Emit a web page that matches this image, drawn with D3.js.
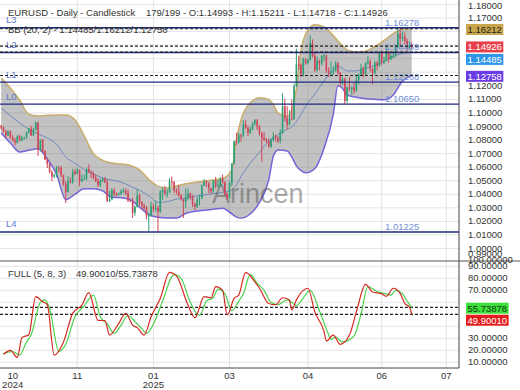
<!DOCTYPE html>
<html><head><meta charset="utf-8">
<script src="https://cdn.jsdelivr.net/npm/d3@7"></script>
<style>html,body{margin:0;padding:0;background:#fff;}svg{display:block;font-family:"Liberation Sans",Arial,sans-serif;}</style>
</head><body><svg id="c" width="520" height="390"></svg>
<script>
// ---------- DATA ----------
const opens=[1.0905,1.0892,1.0862,1.0833,1.0866,1.0817,1.0797,1.0781,1.0828,1.0797,
1.0815,1.0817,1.0856,1.0884,1.0834,1.0878,1.0928,1.0730,1.0801,1.0720,
1.0656,1.0625,1.0565,1.0530,1.0541,1.0597,1.0595,1.0543,1.0474,1.0418,
1.0496,1.0488,1.0567,1.0552,1.0577,1.0497,1.0509,1.0513,1.0587,1.0567,
1.0554,1.0525,1.0497,1.0468,1.0500,1.0513,1.0490,1.0350,1.0362,1.0430,
1.0405,1.0398,1.0405,1.0422,1.0427,1.0408,1.0354,1.0352,1.0264,1.0307,
1.0390,1.0342,1.0317,1.0300,1.0244,1.0244,1.0308,1.0290,1.0300,1.0272,
1.0418,1.0430,1.0407,1.0414,1.0495,1.0493,1.0431,1.0420,1.0392,1.0362,
1.0345,1.0380,1.0404,1.0380,1.0330,1.0308,1.0363,1.0370,1.0464,1.0492,
1.0483,1.0444,1.0423,1.0500,1.0459,1.0466,1.0512,1.0486,1.0400,1.0375,
1.0482,1.0626,1.0790,1.0783,1.0834,1.0833,1.0918,1.0889,1.0852,1.0880,
1.0921,1.0945,1.0900,1.0852,1.0817,1.0801,1.0790,1.0753,1.0800,1.0826,
1.0815,1.0792,1.0851,1.1048,1.0960,1.0912,1.0958,1.0953,1.1197,1.1357,
1.1356,1.1286,1.1396,1.1367,1.1390,1.1517,1.1420,1.1316,1.1386,1.1365,
1.1421,1.1425,1.1312,1.1295,1.1297,1.1313,1.1367,1.1299,1.1224,1.1250,
1.1089,1.1188,1.1176,1.1187,1.1165,1.1243,1.1285,1.1328,1.1283,1.1365,
1.1380,1.1325,1.1293,1.1368,1.1347,1.1442,1.1372,1.1384,1.1444,1.1397,
1.1420,1.1422,1.1488,1.1585,1.1548,1.1563,1.1530,1.1479,1.14993];
const highs=[1.0912,1.0900,1.0875,1.0872,1.0870,1.0836,1.0815,1.0836,1.0840,1.0830,
1.0823,1.0862,1.0888,1.0905,1.0890,1.0937,1.0935,1.0806,1.0810,1.0725,
1.0664,1.0632,1.0580,1.0554,1.0610,1.0608,1.0608,1.0545,1.0496,1.0536,
1.0526,1.0588,1.0585,1.0597,1.0583,1.0545,1.0545,1.0597,1.0620,1.0575,
1.0566,1.0545,1.0520,1.0513,1.0524,1.0528,1.0508,1.0426,1.0446,1.0447,
1.0415,1.0412,1.0437,1.0446,1.0444,1.0435,1.0360,1.0375,1.0318,1.0437,
1.0404,1.0348,1.0329,1.0315,1.0266,1.0345,1.0332,1.0354,1.0317,1.0433,
1.0455,1.0462,1.0438,1.0520,1.0532,1.0496,1.0445,1.0468,1.0403,1.0365,
1.0442,1.0442,1.0412,1.0395,1.0337,1.0378,1.0398,1.0472,1.0513,1.0505,
1.0488,1.0447,1.0505,1.0528,1.0505,1.0528,1.0545,1.0497,1.0413,1.0495,
1.0630,1.0797,1.0854,1.0853,1.0847,1.0947,1.0947,1.0906,1.0896,1.0931,
1.0955,1.0955,1.0910,1.0860,1.0858,1.0815,1.0812,1.0812,1.0858,1.0840,
1.0830,1.0880,1.1144,1.1107,1.1050,1.1020,1.1100,1.1215,1.1473,1.1422,
1.1365,1.1407,1.1404,1.1398,1.1573,1.1543,1.1446,1.1417,1.1392,1.1425,
1.1435,1.1425,1.1337,1.1380,1.1344,1.1381,1.1379,1.1299,1.1266,1.1261,
1.1196,1.1265,1.1195,1.1225,1.1286,1.1290,1.1363,1.1345,1.1375,1.1419,
1.1395,1.1335,1.1387,1.1383,1.1452,1.1455,1.1414,1.1495,1.1455,1.1436,
1.1452,1.1496,1.16278,1.1614,1.1601,1.1595,1.1548,1.1528,1.15211];
const lows=[1.0875,1.0855,1.0815,1.0830,1.0810,1.0790,1.0761,1.0775,1.0790,1.0792,
1.0804,1.0810,1.0848,1.0830,1.0830,1.0870,1.0682,1.0715,1.0710,1.0652,
1.0594,1.0555,1.0496,1.0520,1.0526,1.0560,1.0525,1.0462,1.0335,1.0412,
1.0480,1.0478,1.0540,1.0548,1.0460,1.0490,1.0504,1.0502,1.0556,1.0520,
1.0512,1.0490,1.0455,1.0455,1.0490,1.0482,1.0344,1.0343,1.0355,1.0387,
1.0385,1.0392,1.0395,1.0408,1.0395,1.0343,1.0345,1.0226,1.0242,1.0302,
1.0322,1.0291,1.0287,1.0215,1.0123,1.0235,1.0271,1.0275,1.0125,1.0264,
1.0358,1.0390,1.0375,1.0410,1.0460,1.0411,1.0397,1.0380,1.0355,1.0225,
1.0300,1.0356,1.0360,1.0306,1.0285,1.0299,1.0318,1.0365,1.0460,1.0455,
1.0410,1.0400,1.0411,1.0445,1.0449,1.0455,1.0478,1.0390,1.0360,1.0368,
1.0460,1.0620,1.0763,1.0773,1.0789,1.0820,1.0880,1.0830,1.0846,1.0870,
1.0910,1.0875,1.0833,1.0640,1.0795,1.0777,1.0745,1.0740,1.0788,1.0790,
1.0778,1.0775,1.0845,1.0935,1.0880,1.0910,1.0945,1.0950,1.1190,1.1318,
1.1265,1.1270,1.1355,1.1360,1.1385,1.1410,1.1300,1.1306,1.1315,1.1350,
1.1380,1.1295,1.1265,1.1270,1.1280,1.1305,1.1284,1.1201,1.1208,1.1065,
1.1075,1.1162,1.1135,1.1140,1.1155,1.1210,1.1270,1.1260,1.1275,1.1355,
1.1305,1.1210,1.1285,1.1315,1.1340,1.1355,1.1360,1.1380,1.1372,1.1390,
1.1405,1.1412,1.1480,1.1490,1.1530,1.1505,1.1460,1.1470,1.14718];
const closes=[1.0892,1.0862,1.0833,1.0866,1.0817,1.0797,1.0781,1.0828,1.0797,1.0815,
1.0817,1.0856,1.0884,1.0834,1.0878,1.0928,1.0730,1.0801,1.0720,1.0656,
1.0625,1.0565,1.0530,1.0541,1.0597,1.0595,1.0543,1.0474,1.0418,1.0496,
1.0488,1.0567,1.0552,1.0577,1.0497,1.0509,1.0513,1.0587,1.0567,1.0554,
1.0525,1.0497,1.0468,1.0500,1.0513,1.0490,1.0350,1.0362,1.0430,1.0405,
1.0398,1.0405,1.0422,1.0427,1.0408,1.0354,1.0352,1.0264,1.0307,1.0390,
1.0342,1.0317,1.0300,1.0244,1.0244,1.0308,1.0290,1.0300,1.0272,1.0418,
1.0430,1.0407,1.0414,1.0495,1.0493,1.0431,1.0420,1.0392,1.0362,1.0345,
1.0380,1.0404,1.0380,1.0330,1.0308,1.0363,1.0370,1.0464,1.0492,1.0483,
1.0444,1.0423,1.0500,1.0459,1.0466,1.0512,1.0486,1.0400,1.0375,1.0482,
1.0626,1.0790,1.0783,1.0834,1.0833,1.0918,1.0889,1.0852,1.0880,1.0921,
1.0945,1.0900,1.0852,1.0817,1.0801,1.0790,1.0753,1.0800,1.0826,1.0815,
1.0792,1.0851,1.1048,1.0960,1.0912,1.0958,1.0953,1.1197,1.1357,1.1356,
1.1286,1.1396,1.1367,1.1390,1.1517,1.1420,1.1316,1.1386,1.1365,1.1421,
1.1425,1.1312,1.1295,1.1297,1.1313,1.1367,1.1299,1.1224,1.1250,1.1089,
1.1188,1.1176,1.1187,1.1165,1.1243,1.1285,1.1328,1.1283,1.1365,1.1380,
1.1325,1.1293,1.1368,1.1347,1.1442,1.1372,1.1384,1.1444,1.1397,1.1420,
1.1422,1.1488,1.1585,1.1548,1.1563,1.1530,1.1479,1.1499,1.14926];

// Bollinger band (20,2) at these bar indices
const bbIdx=[0,4,8,12,16,20,24,28,32,36,40,44,48,52,56,60,64,68,72,76,80,84,88,92,96,100,102,104,108,112,116,118,120,124,126,128,130,132,136,140,144,146,148,150,154,158,162,166,170,174,178];
const bbUpper=[1.1258,1.1184,1.1095,1.0990,1.0977,1.0982,1.0985,1.0985,1.0950,1.0830,1.0700,1.0650,1.0630,1.0623,1.0612,1.0580,1.0510,1.0460,1.0446,1.0461,1.0478,1.0488,1.0497,1.0506,1.0516,1.0580,1.0800,1.0950,1.1075,1.1112,1.1100,1.1060,1.1000,1.0975,1.1020,1.1180,1.1460,1.1580,1.1650,1.1635,1.1570,1.1530,1.1495,1.1465,1.1450,1.1455,1.1490,1.1535,1.1585,1.1619,1.16212];
const bbMid=[1.1036,1.0980,1.0926,1.0880,1.0845,1.0815,1.0770,1.0675,1.0630,1.0580,1.0550,1.0520,1.0505,1.0490,1.0460,1.0430,1.0390,1.0340,1.0345,1.0365,1.0373,1.0385,1.0395,1.0405,1.0415,1.0432,1.0470,1.0530,1.0630,1.0710,1.0790,1.0815,1.0840,1.0880,1.0896,1.0935,1.0990,1.1050,1.1140,1.1235,1.1320,1.1345,1.1330,1.1310,1.1310,1.1330,1.1350,1.1380,1.1415,1.1440,1.14485];
const bbLower=[1.0852,1.0778,1.0712,1.0725,1.0735,1.0660,1.0550,1.0360,1.0400,1.0440,1.0440,1.0425,1.0378,1.0375,1.0360,1.0306,1.0250,1.0230,1.0225,1.0225,1.0258,1.0275,1.0283,1.0290,1.0298,1.0255,1.0232,1.0225,1.0255,1.0340,1.0505,1.0680,1.0727,1.0720,1.0675,1.0610,1.0575,1.0558,1.0590,1.0740,1.0990,1.1200,1.1180,1.1132,1.1115,1.1105,1.1100,1.1097,1.1132,1.1235,1.12758];

// Full stochastic (5,8,3)
const kIdx=[1,4,7,9,12,15,18,20,23,27,31,35,38,42,45,47,51,54,57,59,62,65,69,73,76,81,84,88,91,93,96,98,101,103,106,110,112,116,119,122,125,126,128,133,136,140,141,144,147,151,154,158,161,165,167,170,173,175,177,178];
const kVals=[16.7,20,14,30.5,33,64.7,60.5,58,16,26.7,50.8,57.7,68,45,44.7,32.7,42.5,50.8,41,38.9,32.7,48,63.3,85,82,57.7,47,64.7,63.8,73,70,49.4,63.3,66,85,77,71.7,59,58,63.8,62,53.6,62,71.7,52,35.5,27.7,32.7,25,32.7,52,75,68.6,67,65,71.7,67.5,59,56,49.9001];
const dIdx=[1,5,8,11,13,17,19,21,25,28,32,36,40,43,46,49,52,55,58,61,63,67,70,75,78,82,86,89,92,94,97,100,103,105,108,111,114,117,120,124,126,128,130,134,138,142,143,145,148,153,156,159,163,167,169,171,174,176,178];
const dVals=[17,19,16,27,33,60,62,55,19,25,48,57,66,48,42,34,41,49,44,38,34,46,61,83,80,60,49,61,64,71,67,53,61,67,83,76,70,60,58,62,60,57,61,70,53,33,29,31,27,32,50,73,69,67,66,70,67,61,55.73878];

const levelNames=["L3","L2","L1","L0","L4"];
const levelValues=[1.16278,1.14459,1.12268,1.10650,1.01225];
const bbLast=[1.14485,1.16212,1.12758]; // mid/upper/lower
const priceTagValues=[1.16212,1.14926,1.14485,1.12758];
const priceTagFills=["#c9a64b","#e8414b","#2f95e6","#6a3ce6"];
const priceTagText=["#222","#fff","#fff","#fff"];
const stochTagValues=[55.73878,49.90010];
const stochTagFills=["#3de03d","#e51d1d"];
const stochTagText=["#103a10","#fff"];
const monthTickIdx=[5,33,66,99,133,165,193];
const monthLabels=["10","11","01","03","04","06","07"];
const yearLabels=["2024","","2025","","","",""];
const priceTicks=d3.range(0,20).map(i=>+(0.99+i*0.01).toFixed(2));
const stochTicks=[10,20,30,40,50,60,70,80,90,100];

// ---------- CHART ----------
const W=459, mainTop=0, mainBot=261, stTop=261, stBot=368;
const svg=d3.select("#c");
const x=d3.scaleLinear().domain([-0.5,198.5]).range([0,W]);
const yP=d3.scaleLinear().domain([0.99,1.18]).range([262.1,4.44]);
const yS=d3.scaleLinear().domain([0,100]).range([374.3,254.3]);
const f5=d3.format(".5f");
const step=x(1)-x(0);

const defs=svg.append("defs");
defs.append("clipPath").attr("id","cm").append("rect").attr("x",0).attr("y",mainTop).attr("width",W).attr("height",mainBot-mainTop);
defs.append("clipPath").attr("id","cs").append("rect").attr("x",0).attr("y",stTop).attr("width",W).attr("height",stBot-stTop);

const gm=svg.append("g").attr("clip-path","url(#cm)");
const gs=svg.append("g").attr("clip-path","url(#cs)");

// grids
gm.selectAll("line.hg").data(priceTicks).join("line").attr("x1",0).attr("x2",W)
  .attr("y1",d=>yP(d)).attr("y2",d=>yP(d)).attr("stroke","#e4e4e4").attr("stroke-width",1);
gs.selectAll("line.hg").data(stochTicks).join("line").attr("x1",0).attr("x2",W)
  .attr("y1",d=>yS(d)).attr("y2",d=>yS(d)).attr("stroke","#e4e4e4").attr("stroke-width",1);
const vt=monthTickIdx.slice(1);
gm.selectAll("line.vg").data(vt).join("line").attr("x1",d=>x(d)).attr("x2",d=>x(d))
  .attr("y1",mainTop).attr("y2",mainBot).attr("stroke","#e4e4e4");
gs.selectAll("line.vg").data(vt).join("line").attr("x1",d=>x(d)).attr("x2",d=>x(d))
  .attr("y1",stTop).attr("y2",stBot).attr("stroke","#e4e4e4");

// Bollinger band
const bbI=d3.range(bbIdx.length);
gm.append("path").datum(bbI).attr("fill","rgba(120,120,120,0.45)")
  .attr("d",d3.area().x(i=>x(bbIdx[i])).y0(i=>yP(bbLower[i])).y1(i=>yP(bbUpper[i])).curve(d3.curveMonotoneX));
const bbLine=arr=>d3.line().x(i=>x(bbIdx[i])).y(i=>yP(arr[i])).curve(d3.curveMonotoneX);
gm.append("path").datum(bbI).attr("fill","none").attr("stroke","#6f8bbd").attr("stroke-width",1).attr("d",bbLine(bbMid));
gm.append("path").datum(bbI).attr("fill","none").attr("stroke","#c9ad6a").attr("stroke-width",1.5).attr("d",bbLine(bbUpper));
gm.append("path").datum(bbI).attr("fill","none").attr("stroke","#7563d8").attr("stroke-width",1.5).attr("d",bbLine(bbLower));

// watermark
gm.append("text").attr("x",212).attr("y",203).attr("font-size",27).attr("fill","#555").attr("opacity",0.5).text("Arincen");

// candles
const ci=d3.range(closes.length);
const col=i=>closes[i]>=opens[i]?"#2e9e75":"#d0465a";
gm.selectAll("line.wick").data(ci).join("line").attr("x1",i=>x(i)).attr("x2",i=>x(i))
  .attr("y1",i=>yP(highs[i])).attr("y2",i=>yP(lows[i])).attr("stroke",col).attr("stroke-width",1);
gm.selectAll("rect.body").data(ci).join("rect").attr("x",i=>x(i)-step*0.35).attr("width",step*0.7)
  .attr("y",i=>yP(Math.max(opens[i],closes[i])))
  .attr("height",i=>Math.max(1,Math.abs(yP(opens[i])-yP(closes[i])))).attr("fill",col);

// level lines
const li=d3.range(levelValues.length);
gm.selectAll("line.lvl").data(li).join("line").attr("x1",0).attr("x2",W)
  .attr("y1",i=>yP(levelValues[i])).attr("y2",i=>yP(levelValues[i])).attr("stroke","#1f2a80").attr("stroke-width",1.4);
gm.selectAll("text.ln").data(li).join("text").attr("x",6).attr("y",i=>yP(levelValues[i])-4.5)
  .attr("font-size",9.5).attr("fill","#5d7bd0").text(i=>levelNames[i]);
gm.selectAll("text.lv").data(li).join("text").attr("x",385).attr("y",i=>yP(levelValues[i])-2)
  .attr("font-size",9.5).attr("fill","#6f8fd8").text(i=>f5(levelValues[i]));

// dashed value lines
gm.selectAll("line.dv").data(priceTagValues).join("line").attr("x1",0).attr("x2",W)
  .attr("y1",d=>yP(d)).attr("y2",d=>yP(d)).attr("stroke","#222").attr("stroke-width",1.1).attr("stroke-dasharray","3,2");

// stochastic
const kI=d3.range(kIdx.length), dI=d3.range(dIdx.length);
gs.selectAll("line.dv").data(stochTagValues).join("line").attr("x1",0).attr("x2",W)
  .attr("y1",d=>yS(d)).attr("y2",d=>yS(d)).attr("stroke","#222").attr("stroke-width",1.1).attr("stroke-dasharray","3,2");
gs.append("path").datum(dI).attr("fill","none").attr("stroke","#4ccf4c").attr("stroke-width",1.2)
  .attr("d",d3.line().x(i=>x(dIdx[i])).y(i=>yS(dVals[i])).curve(d3.curveMonotoneX));
gs.append("path").datum(kI).attr("fill","none").attr("stroke","#d42a22").attr("stroke-width",1.2)
  .attr("d",d3.line().x(i=>x(kIdx[i])).y(i=>yS(kVals[i])).curve(d3.curveMonotoneX));

// frames
svg.append("line").attr("x1",0).attr("x2",520).attr("y1",261).attr("y2",261).attr("stroke","#555");
svg.append("line").attr("x1",0).attr("x2",W).attr("y1",368).attr("y2",368).attr("stroke","#444");
svg.append("line").attr("x1",W).attr("x2",W).attr("y1",0).attr("y2",368).attr("stroke","#444");

// tag placement (push apart)
function place(vals,scale,gap){
  const items=vals.map((v,i)=>({v,i,y:scale(v)+0.8})).sort((a,b)=>a.y-b.y);
  for(let k=1;k<items.length;k++){ if(items[k].y<items[k-1].y+gap) items[k].y=items[k-1].y+gap; }
  return items;
}
const pTags=place(priceTagValues,yP,12.5);
const sTags=place(stochTagValues,yS,12);
const covered=(y,tg)=>tg.some(t=>Math.abs(t.y-y)<8);

// axes
const ap=svg.append("g").attr("transform",`translate(${W},0)`)
  .call(d3.axisRight(yP).tickValues(priceTicks).tickFormat(f5).tickSize(0).tickPadding(9));
ap.select(".domain").remove();
ap.selectAll(".tick").attr("transform",d=>`translate(0,${Math.max(6,Math.min(yP(d),254))})`);
ap.selectAll(".tick").filter(d=>covered(yP(d),pTags)).remove();
ap.selectAll("text").attr("font-size",9.5).attr("font-family","Liberation Sans, Arial, sans-serif").attr("fill","#333");
const as=svg.append("g").attr("transform",`translate(${W},0)`)
  .call(d3.axisRight(yS).tickValues(stochTicks).tickFormat(f5).tickSize(0).tickPadding(9));
as.select(".domain").remove();
as.selectAll(".tick").attr("transform",d=>`translate(0,${Math.max(yS(d),260)})`);
as.selectAll(".tick").filter(d=>covered(yS(d),sTags)).remove();
as.selectAll("text").attr("font-size",9.5).attr("font-family","Liberation Sans, Arial, sans-serif").attr("fill","#333");

// tags
function drawTags(items,fills,tcols){
  items.forEach(it=>{
    const g=svg.append("g");
    const t=g.append("text").attr("x",467.5).attr("y",it.y).attr("dy","0.35em").attr("font-size",9.5)
      .attr("fill",tcols[it.i]).text(f5(it.v));
    const w=t.node().getComputedTextLength();
    g.insert("rect","text").attr("x",466).attr("y",it.y-5.5).attr("width",w+3).attr("height",11).attr("fill",fills[it.i]);
  });
}
drawTags(pTags,priceTagFills,priceTagText);
drawTags(sTags,stochTagFills,stochTagText);

// x labels
const mi=d3.range(monthTickIdx.length);
svg.selectAll("text.mo").data(mi).join("text").attr("x",i=>x(monthTickIdx[i])).attr("y",378.5)
  .attr("text-anchor","middle").attr("font-size",9.5).attr("fill","#333").text(i=>monthLabels[i]);
svg.selectAll("text.yr").data(mi.filter(i=>yearLabels[i])).join("text").attr("x",i=>x(monthTickIdx[i])).attr("y",387.5)
  .attr("text-anchor","middle").attr("font-size",9.5).attr("fill","#333").text(i=>yearLabels[i]);

// legends
const n=closes.length-1;
svg.append("text").attr("x",8).attr("y",16).attr("font-size",9.5).attr("fill","#333").text("EURUSD - Daily - Candlestick");
svg.append("text").attr("x",146).attr("y",16).attr("font-size",9.5).attr("fill","#333")
  .text(`${n+1}/199 - O:${f5(opens[n])} - H:${f5(highs[n])} - L:${f5(lows[n])} - C:${f5(closes[n])}`);
svg.append("text").attr("x",8).attr("y",33).attr("font-size",9.5).attr("fill","#333")
  .text(`BB (20, 2) - ${bbLast.map(f5).join("/")}`);
svg.append("text").attr("x",8).attr("y",276.5).attr("font-size",9.5).attr("fill","#333").text("FULL (5, 8, 3)");
svg.append("text").attr("x",76).attr("y",276.5).attr("font-size",9.5).attr("fill","#333")
  .text(`${f5(stochTagValues[1])}/${f5(stochTagValues[0])}`);
</script></body></html>
